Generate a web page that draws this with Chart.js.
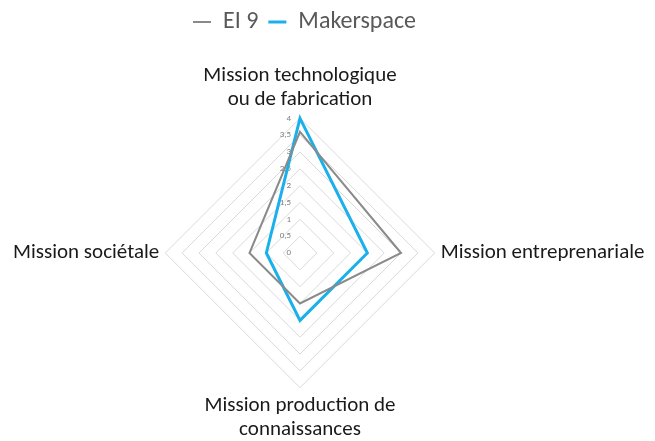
<!DOCTYPE html>
<html>
<head>
<meta charset="utf-8">
<script src="https://cdn.jsdelivr.net/npm/chart.js@4/dist/chart.umd.min.js"></script>
<style>
  html, body { margin: 0; background: #fff; overflow: hidden; }
  /* zone un peu plus large que la fenêtre : le radar garde sa taille malgré le long libellé de droite */
  #cadre { width: 693px; height: 443px; margin-left: -20px; }
</style>
</head>
<body>
<div id="cadre"><canvas id="GraficoMissions"></canvas></div>
<script>
// axes du radar (libellés sur deux lignes quand besoin)
const missions = [
  ["Mission technologique", "ou de fabrication"],
  "Mission entreprenariale",
  ["Mission production de", "connaissances"],
  "Mission sociétale"
];
const valeursEI9 = [3.6, 3, 1.5, 1.5];
const valeursMakerspace = [4, 2, 2, 1];
const graduations = [0, 0.5, 1, 1.5, 2, 2.5, 3, 3.5, 4];

const police = '"Carlito", "Lato", sans-serif';

// graduations dessinées à gauche de l'axe vertical, virgule décimale
const etiquettesGraduations = {
  id: 'etiquettesGraduations',
  beforeDatasetsDraw(chart) {
    const echelle = chart.scales.r;
    const ctx = chart.ctx;
    ctx.save();
    ctx.font = '9px ' + police;
    ctx.fillStyle = '#7f7f7f';
    ctx.textAlign = 'right';
    ctx.textBaseline = 'middle';
    graduations.forEach(function (v) {
      const d = echelle.getDistanceFromCenterForValue(v);
      ctx.fillText(String(v).replace('.', ','), echelle.xCenter - 9, echelle.yCenter - d);
    });
    ctx.restore();
  }
};

// un peu plus d'espace sous la légende, et légende décalée vers la gauche
const ajusteLegende = {
  id: 'ajusteLegende',
  beforeInit(chart) {
    const fitOrigine = chart.legend.fit;
    chart.legend.fit = function () {
      fitOrigine.bind(chart.legend)();
      this.height += 21;
    };
  },
  afterLayout(chart) {
    chart.legend.left -= 22;
    chart.legend.right -= 22;
  }
};

new Chart(document.getElementById("GraficoMissions"), {
  type: 'radar',
  data: {
    labels: missions,
    datasets: [{
      label: "EI 9",
      data: valeursEI9,
      borderColor: "#8a8a8a",
      backgroundColor: "#8a8a8a",
      borderWidth: 2,
      fill: false,
      pointRadius: 0,
      pointHoverRadius: 0
    }, {
      label: "Makerspace",
      data: valeursMakerspace,
      borderColor: "#1ab0ea",
      backgroundColor: "#1ab0ea",
      borderWidth: 3,
      fill: false,
      pointRadius: 0,
      pointHoverRadius: 0
    }]
  },
  options: {
    responsive: true,
    maintainAspectRatio: false,
    animation: false,
    elements: { line: { tension: 0 } },
    plugins: {
      legend: {
        position: 'top',
        labels: {
          usePointStyle: true,
          pointStyle: 'line',
          pointStyleWidth: 18,
          padding: 10,
          color: '#595959',
          font: { family: police, size: 24 }
        }
      },
      tooltip: { enabled: false }
    },
    scales: {
      r: {
        min: 0,
        max: 4,
        ticks: { stepSize: 0.5, display: false },
        angleLines: { display: false },
        grid: { circular: false, color: '#d9d9d9', lineWidth: 1 },
        pointLabels: {
          color: '#1a1a1a',
          padding: 6,
          font: { family: police, size: 21, lineHeight: 1.15 }
        }
      }
    }
  },
  plugins: [etiquettesGraduations, ajusteLegende]
});
</script>
</body>
</html>
